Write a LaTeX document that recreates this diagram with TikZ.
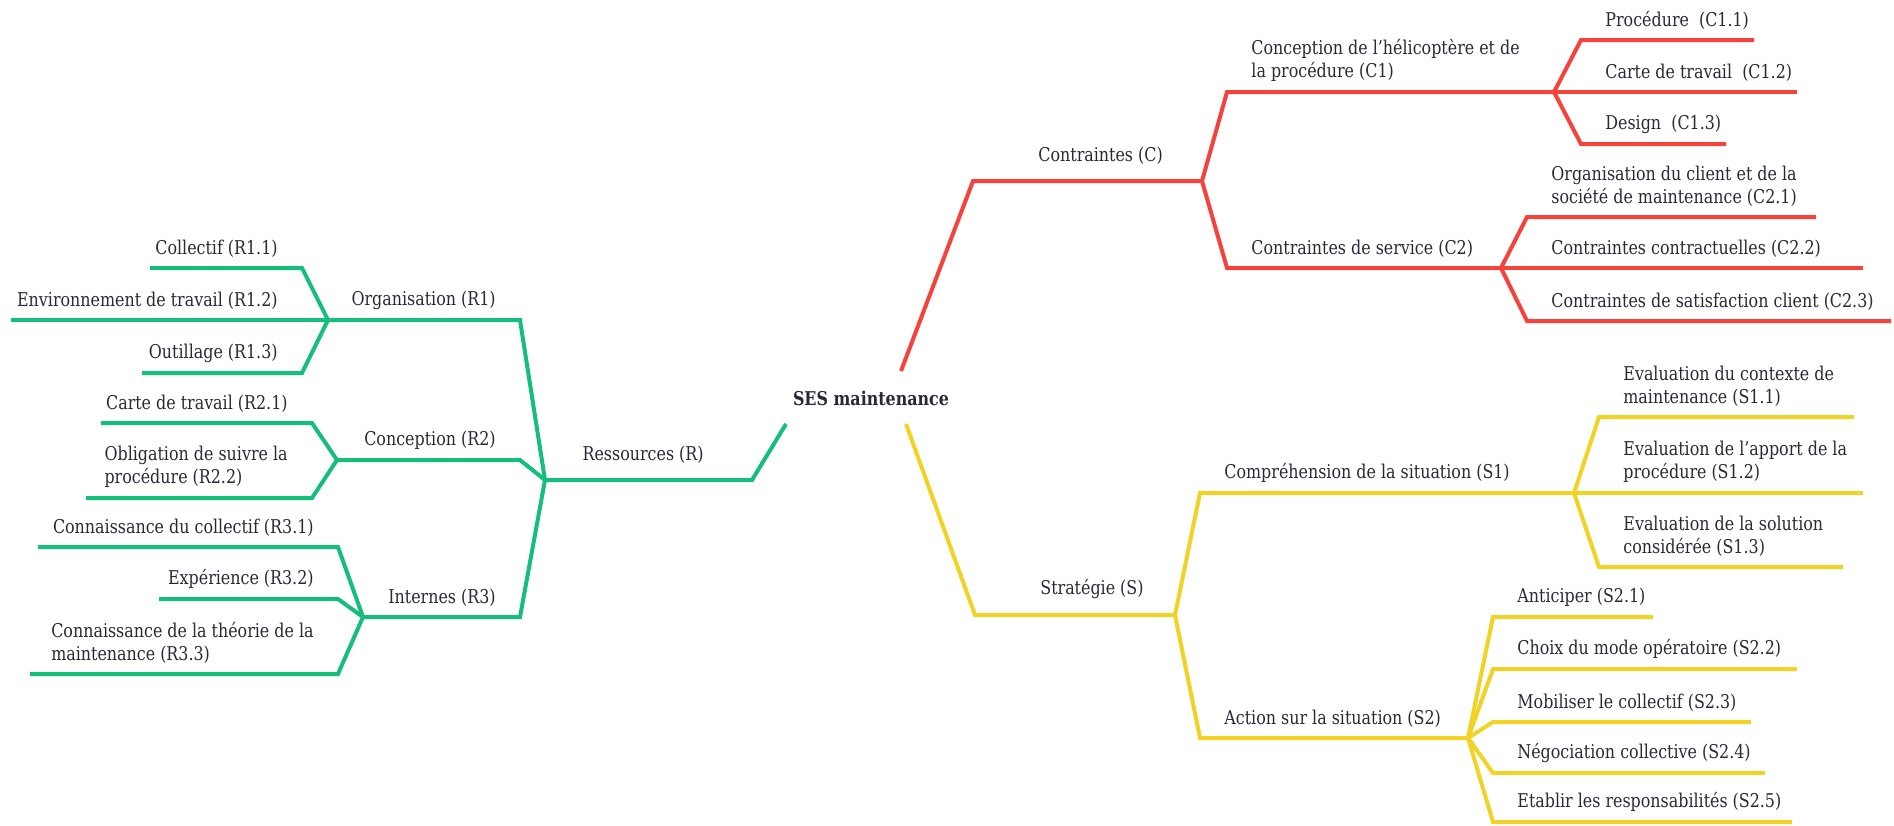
\documentclass[tikz,border=0pt]{standalone}
\usepackage{fontspec}
\setmainfont{DejaVu Serif Condensed}[FakeStretch=0.93]
\definecolor{mmgreen}{RGB}{22,190,124}
\definecolor{mmred}{RGB}{246,66,58}
\definecolor{mmyellow}{RGB}{242,210,36}
\definecolor{mmtext}{RGB}{40,40,56}

\begin{document}
\begin{tikzpicture}[x=0.5pt,y=-0.5pt,
        gline/.style={mmgreen, line width=2pt},
        rline/.style={mmred, line width=2pt},
        yline/.style={mmyellow, line width=2pt},
        lbl/.style={inner sep=0pt, align=left, text=mmtext, font=\fontsize{9.5}{11.5}\selectfont},
        leafL/.style={lbl, anchor=south east, xshift=-12pt, yshift=5pt},
        leafR/.style={lbl, anchor=south west, xshift=12pt, yshift=5pt},
        mainL/.style={lbl, anchor=south east, xshift=-24pt, yshift=8pt},
        mainR/.style={lbl, anchor=south west, xshift=32.5pt, yshift=8pt}]
                    \useasboundingbox (0,0) rectangle (1894,825);

                    \node [lbl, anchor=center, font=\fontsize{9.5}{11.5}\selectfont\bfseries] (SES) at (871,398) {SES maintenance};

                    \coordinate (sR) at (786,424);
                    \coordinate (kR) at (752,480);
                    \coordinate (hR) at (545,480);
                    \coordinate (kR1) at (520,320);
                    \coordinate (jR1) at (328,320);
                    \coordinate (kR2) at (520,460);
                    \coordinate (jR2) at (337,460);
                    \coordinate (kR3) at (520,617);
                    \coordinate (jR3) at (363,617);

                    \coordinate (k11) at (302,268);  \coordinate (e11) at (150,268);
                    \coordinate (k12) at (302,320);  \coordinate (e12) at (11,320);
                    \coordinate (k13) at (302,373);  \coordinate (e13) at (142,373);
                    \coordinate (k21) at (312,423);  \coordinate (e21) at (101,423);
                    \coordinate (k22) at (312,498);  \coordinate (e22) at (86,498);
                    \coordinate (k31) at (338,547);  \coordinate (e31) at (38,547);
                    \coordinate (k32) at (338,599);  \coordinate (e32) at (159,599);
                    \coordinate (k33) at (338,674);  \coordinate (e33) at (30,674);

                    \coordinate (sC) at (901,371);
                    \coordinate (kC) at (973,181);
                    \coordinate (jC) at (1202,181);
                    \coordinate (kC1) at (1227,92);
                    \coordinate (jC1) at (1554,92);
                    \coordinate (kC2) at (1227,268);
                    \coordinate (jC2) at (1501,268);

                    \coordinate (kC11) at (1581,40);   \coordinate (eC11) at (1754,40);
                    \coordinate (kC12) at (1581,92);   \coordinate (eC12) at (1797,92);
                    \coordinate (kC13) at (1581,144);  \coordinate (eC13) at (1726,144);
                    \coordinate (kC21) at (1527,217);  \coordinate (eC21) at (1816,217);
                    \coordinate (kC22) at (1527,268);  \coordinate (eC22) at (1863,268);
                    \coordinate (kC23) at (1527,321);  \coordinate (eC23) at (1891,321);

                    \coordinate (sS) at (906,424);
                    \coordinate (kS) at (975,615);
                    \coordinate (jS) at (1175,615);
                    \coordinate (kS1) at (1200,493);
                    \coordinate (jS1) at (1574,493);
                    \coordinate (kS2) at (1200,738);
                    \coordinate (jS2) at (1468,738);

                    \coordinate (kS11) at (1599,417);  \coordinate (eS11) at (1854,417);
                    \coordinate (kS12) at (1599,493);  \coordinate (eS12) at (1863,493);
                    \coordinate (kS13) at (1599,567);  \coordinate (eS13) at (1843,567);
                    \coordinate (kS21) at (1493,617);  \coordinate (eS21) at (1653,617);
                    \coordinate (kS22) at (1493,669);  \coordinate (eS22) at (1797,669);
                    \coordinate (kS23) at (1493,722);  \coordinate (eS23) at (1751,722);
                    \coordinate (kS24) at (1493,773);  \coordinate (eS24) at (1765,773);
                    \coordinate (kS25) at (1493,822);  \coordinate (eS25) at (1792,822);

                    \draw[gline] (sR) -- (kR) -- (hR);
                    \draw[gline] (hR) -- (kR1) -- (jR1);
                    \draw[gline] (hR) -- (kR2) -- (jR2);
                    \draw[gline] (hR) -- (kR3) -- (jR3);
                    \draw[gline] (jR1) -- (k11) -- (e11);
                    \draw[gline] (jR1) -- (k12) -- (e12);
                    \draw[gline] (jR1) -- (k13) -- (e13);
                    \draw[gline] (jR2) -- (k21) -- (e21);
                    \draw[gline] (jR2) -- (k22) -- (e22);
                    \draw[gline] (jR3) -- (k31) -- (e31);
                    \draw[gline] (jR3) -- (k32) -- (e32);
                    \draw[gline] (jR3) -- (k33) -- (e33);

                    \draw[rline] (sC) -- (kC) -- (jC);
                    \draw[rline] (jC) -- (kC1) -- (jC1);
                    \draw[rline] (jC) -- (kC2) -- (jC2);
                    \draw[rline] (jC1) -- (kC11) -- (eC11);
                    \draw[rline] (jC1) -- (kC12) -- (eC12);
                    \draw[rline] (jC1) -- (kC13) -- (eC13);
                    \draw[rline] (jC2) -- (kC21) -- (eC21);
                    \draw[rline] (jC2) -- (kC22) -- (eC22);
                    \draw[rline] (jC2) -- (kC23) -- (eC23);

                    \draw[yline] (sS) -- (kS) -- (jS);
                    \draw[yline] (jS) -- (kS1) -- (jS1);
                    \draw[yline] (jS) -- (kS2) -- (jS2);
                    \draw[yline] (jS1) -- (kS11) -- (eS11);
                    \draw[yline] (jS1) -- (kS12) -- (eS12);
                    \draw[yline] (jS1) -- (kS13) -- (eS13);
                    \draw[yline] (jS2) -- (kS21) -- (eS21);
                    \draw[yline] (jS2) -- (kS22) -- (eS22);
                    \draw[yline] (jS2) -- (kS23) -- (eS23);
                    \draw[yline] (jS2) -- (kS24) -- (eS24);
                    \draw[yline] (jS2) -- (kS25) -- (eS25);

                    \node[mainL] (tR) at (kR) {Ressources (R)};
                    \node[leafL] (tR1) at (kR1) {Organisation (R1)};
                    \node[leafL] (tR2) at (kR2) {Conception (R2)};
                    \node[leafL] (tR3) at (kR3) {Internes (R3)};
                    \node[leafL] (t11) at (k11) {Collectif (R1.1)};
                    \node[leafL] (t12) at (k12) {Environnement de travail (R1.2)};
                    \node[leafL] (t13) at (k13) {Outillage (R1.3)};
                    \node[leafL] (t21) at (k21) {Carte de travail (R2.1)};
                    \node[leafL] (t22) at (k22) {Obligation de suivre la\\procédure (R2.2)};
                    \node[leafL] (t31) at (k31) {Connaissance du collectif (R3.1)};
                    \node[leafL] (t32) at (k32) {Expérience (R3.2)};
                    \node[leafL] (t33) at (k33) {Connaissance de la théorie de la\\maintenance (R3.3)};

                    \node[mainR] (tC) at (kC) {Contraintes (C)};
                    \node[leafR] (tC1) at (kC1) {Conception de l'hélicoptère et de\\la procédure (C1)};
                    \node[leafR] (tC2) at (kC2) {Contraintes de service (C2)};
                    \node[leafR] (tC11) at (kC11) {Procédure~ (C1.1)};
                    \node[leafR] (tC12) at (kC12) {Carte de travail~ (C1.2)};
                    \node[leafR] (tC13) at (kC13) {Design~ (C1.3)};
                    \node[leafR] (tC21) at (kC21) {Organisation du client et de la\\société de maintenance (C2.1)};
                    \node[leafR] (tC22) at (kC22) {Contraintes contractuelles (C2.2)};
                    \node[leafR] (tC23) at (kC23) {Contraintes de satisfaction client (C2.3)};

                    \node[mainR] (tS) at (kS) {Stratégie (S)};
                    \node[leafR] (tS1) at (kS1) {Compréhension de la situation (S1)};
                    \node[leafR] (tS2) at (kS2) {Action sur la situation (S2)};
                    \node[leafR] (tS11) at (kS11) {Evaluation du contexte de\\maintenance (S1.1)};
                    \node[leafR] (tS12) at (kS12) {Evaluation de l'apport de la\\procédure (S1.2)};
                    \node[leafR] (tS13) at (kS13) {Evaluation de la solution\\considérée (S1.3)};
                    \node[leafR] (tS21) at (kS21) {Anticiper (S2.1)};
                    \node[leafR] (tS22) at (kS22) {Choix du mode opératoire (S2.2)};
                    \node[leafR] (tS23) at (kS23) {Mobiliser le collectif (S2.3)};
                    \node[leafR] (tS24) at (kS24) {Négociation collective (S2.4)};
                    \node[leafR] (tS25) at (kS25) {Etablir les responsabilités (S2.5)};
                \end{tikzpicture}
\end{document}
